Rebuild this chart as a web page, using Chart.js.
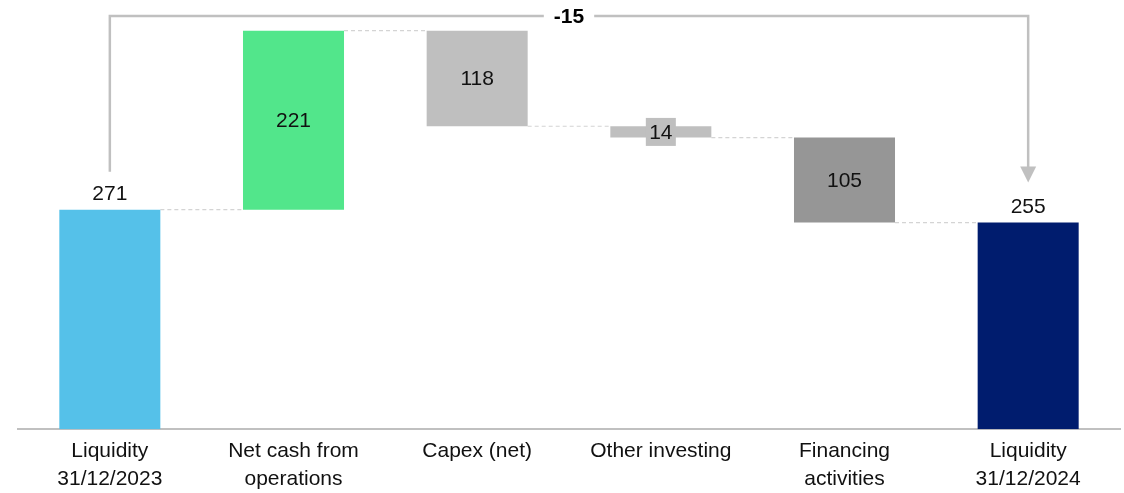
<!DOCTYPE html>
<html>
<head>
<meta charset="utf-8">
<script src="https://cdn.jsdelivr.net/npm/chart.js@4"></script>
<style>
  html, body { margin: 0; padding: 0; background: #fff; }
  canvas { display: block; }
</style>
</head>
<body>
<canvas id="cashChart" width="1124" height="493"></canvas>
<script>
const categories = [
    ['Liquidity', '31/12/2023'],
    ['Net cash from', 'operations'],
    ['Capex (net)'],
    ['Other investing'],
    ['Financing', 'activities'],
    ['Liquidity', '31/12/2024']
];
const openingBalance = 271;
const movements = [221, -118, -14, -105];
const closingBalance = 255;
const netChange = -15;
const barColors = ['#55c1e9', '#52e68b', '#bfbfbf', '#bfbfbf', '#969696', '#001c6e'];

// floating ranges for the waterfall: totals start at zero, movements stack on the running total
const ranges = [[0, openingBalance]];
let running = openingBalance;
movements.forEach(m => {
    ranges.push([running, running + m]);
    running += m;
});
ranges.push([0, closingBalance]);
const shownValues = [openingBalance, ...movements.map(Math.abs), closingBalance];

const FONT = 'Liberation Sans, Arial, sans-serif';

const waterfallDecor = {
    id: 'waterfallDecor',
    beforeDatasetsDraw(chart) {
        const ctx = chart.ctx;
        const bars = chart.getDatasetMeta(0).data;
        const y = chart.scales.y;
        ctx.save();
        ctx.strokeStyle = '#d4d4d4';
        ctx.lineWidth = 1.2;
        ctx.setLineDash([4, 3]);
        for (let i = 0; i < bars.length - 1; i++) {
            const level = ranges[i][1];
            const py = y.getPixelForValue(level);
            ctx.beginPath();
            ctx.moveTo(bars[i].x + bars[i].width / 2, py);
            ctx.lineTo(bars[i + 1].x - bars[i + 1].width / 2, py);
            ctx.stroke();
        }
        ctx.restore();
    },
    afterDatasetsDraw(chart) {
        const ctx = chart.ctx;
        const bars = chart.getDatasetMeta(0).data;
        const y = chart.scales.y;
        const last = bars.length - 1;
        ctx.save();
        ctx.font = '21px ' + FONT;
        ctx.fillStyle = '#111';
        ctx.textAlign = 'center';

        bars.forEach((bar, i) => {
            const top = y.getPixelForValue(Math.max(...ranges[i]));
            const bottom = y.getPixelForValue(Math.min(...ranges[i]));
            const text = String(shownValues[i]);
            if (i === 0 || i === last) {
                ctx.textBaseline = 'alphabetic';
                ctx.fillText(text, bar.x, top - 10);
            } else {
                const cy = (top + bottom) / 2;
                if (bottom - top < 26) {
                    ctx.fillStyle = barColors[i];
                    ctx.fillRect(bar.x - 15, cy - 14, 30, 28);
                    ctx.fillStyle = '#111';
                }
                ctx.textBaseline = 'middle';
                ctx.fillText(text, bar.x, cy + 1);
            }
        });

        // bracket showing the net change between the two liquidity totals
        const leftX = bars[0].x;
        const rightX = bars[last].x;
        const lineY = 16;
        const leftBottom = y.getPixelForValue(openingBalance) - 38;
        const arrowTip = y.getPixelForValue(closingBalance) - 40;
        ctx.strokeStyle = '#c0c0c0';
        ctx.fillStyle = '#c0c0c0';
        ctx.lineWidth = 2.5;
        ctx.beginPath();
        ctx.moveTo(leftX, leftBottom);
        ctx.lineTo(leftX, lineY);
        ctx.lineTo(rightX, lineY);
        ctx.lineTo(rightX, arrowTip - 15);
        ctx.stroke();
        ctx.beginPath();
        ctx.moveTo(rightX - 8, arrowTip - 16);
        ctx.lineTo(rightX + 8, arrowTip - 16);
        ctx.lineTo(rightX, arrowTip);
        ctx.closePath();
        ctx.fill();

        const midX = (leftX + rightX) / 2;
        ctx.font = 'bold 21px ' + FONT;
        const w = ctx.measureText(String(netChange)).width + 20;
        ctx.fillStyle = '#fff';
        ctx.fillRect(midX - w / 2, lineY - 4, w, 8);
        ctx.fillStyle = '#000';
        ctx.textBaseline = 'middle';
        ctx.fillText(String(netChange), midX, lineY + 1);
        ctx.restore();
    }
};

new Chart(document.getElementById('cashChart'), {
    type: 'bar',
    data: {
        labels: categories,
        datasets: [{
            data: ranges,
            backgroundColor: barColors,
            barPercentage: 0.55,
            categoryPercentage: 1
        }]
    },
    options: {
        responsive: false,
        animation: false,
        layout: { padding: { left: 18, right: 4, top: 8, bottom: -8 } },
        plugins: {
            legend: { display: false },
            tooltip: { enabled: false }
        },
        scales: {
            x: {
                grid: { display: false, drawTicks: false },
                border: { display: true, color: '#c0c0c0', width: 2 },
                ticks: {
                    color: '#111',
                    padding: 8,
                    maxRotation: 0,
                    autoSkip: false,
                    font: { family: FONT, size: 21, lineHeight: 1.33 }
                }
            },
            y: {
                display: false,
                min: 0,
                max: 520
            }
        }
    },
    plugins: [waterfallDecor]
});
</script>
</body>
</html>
